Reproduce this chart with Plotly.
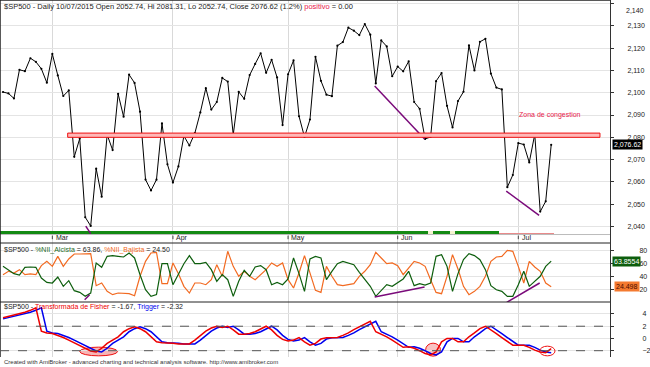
import plotly.graph_objects as go

# ---------------- data ----------------
close = [2100.34, 2099.68, 2097.45, 2110.30, 2109.66, 2115.48, 2113.86, 2110.74, 2104.50,
         2117.39, 2107.78, 2098.53, 2101.04, 2071.26, 2079.43, 2044.16, 2040.24, 2065.95, 2053.40,
         2081.19, 2074.28, 2099.50, 2089.27, 2108.10, 2104.42, 2091.50, 2061.05, 2056.15, 2061.02,
         2086.24, 2067.89,
         2059.69, 2066.96, 2080.62, 2076.33, 2081.90, 2091.18, 2102.06, 2092.43, 2095.84, 2106.63,
         2104.99, 2081.18, 2100.40, 2097.29, 2107.96, 2112.93, 2117.69, 2108.92, 2114.76, 2106.85,
         2085.51,
         2108.29, 2114.49, 2089.46, 2080.15, 2088.00, 2116.10, 2105.33, 2099.12, 2098.48, 2121.10,
         2122.73, 2129.20, 2127.83, 2125.85, 2130.82, 2126.06, 2104.20, 2123.48, 2120.79, 2107.39,
         2111.73, 2109.60, 2114.07, 2095.84, 2092.83, 2079.28, 2080.15, 2105.20, 2108.86, 2094.11,
         2084.43, 2096.29, 2100.44, 2121.24, 2109.99, 2122.85, 2124.20, 2108.58, 2102.31, 2101.49,
         2057.64, 2063.11,
         2077.42, 2076.78, 2068.76, 2081.34, 2046.68, 2051.31, 2076.62]

nii_alcista = [55.9, 49.8, 44.7, 42.6, 54.4, 54.9, 54.4, 38.0, 31.3, 30.3,
               39.5, 25.2, 33.9, 18.5, 15.9, 9.8, 14.9, 61.1, 54.4, 71.3,
               72.4, 71.3, 70.3, 76.5, 68.8, 43.1, 20.0, 9.8, 12.4, 60.0,
               60.0, 27.7, 43.1, 60.0, 72.4, 60.0, 60.0, 62.1, 50.8, 32.9,
               43.1, 35.4, 9.8, 32.9, 49.8, 40.6, 54.9, 57.0, 50.8, 27.7,
               31.3, 27.7, 36.5, 68.8, 44.7, 17.5, 67.2, 71.3, 68.8, 35.4,
               48.3, 60.0, 63.6, 61.1, 58.5, 46.7, 35.4, 25.2, 9.8, 19.0,
               27.7, 25.2, 31.3, 36.5, 48.3, 26.2, 29.3, 27.0, 30.3, 71.3,
               73.9, 55.9, 17.5, 44.7, 66.2, 75.4, 72.4, 66.2, 50.8, 26.2,
               20.0, 17.5, 9.8, 9.8, 27.7, 48.3, 25.2, 32.9, 40.6, 55.9,
               63.86]

nii_bajista = [43.1, 48.3, 45.7, 50.8, 43.1, 44.2, 43.1, 57.0, 63.6, 55.9,
               71.3, 55.9, 67.2, 74.9, 74.9, 74.9, 75.4, 26.2, 30.3, 17.5,
               12.4, 14.9, 14.9, 13.9, 10.8, 40.6, 63.6, 76.5, 77.5, 29.3,
               29.3, 61.1, 44.7, 25.2, 14.9, 30.3, 30.3, 27.7, 35.4, 58.5,
               40.6, 79.0, 55.9, 40.6, 48.3, 40.6, 35.4, 43.1, 50.8, 61.1,
               55.9, 61.1, 35.4, 22.6, 45.7, 72.4, 44.7, 19.0, 15.9, 55.9,
               40.6, 27.7, 26.2, 27.7, 29.3, 40.6, 48.3, 58.5, 77.5, 68.8,
               60.0, 61.1, 57.0, 43.1, 53.4, 63.6, 61.1, 55.9, 35.4, 15.9,
               13.9, 40.6, 73.9, 51.9, 25.2, 12.4, 17.5, 25.2, 40.6, 63.6,
               70.3, 71.3, 80.6, 79.0, 55.9, 30.3, 63.6, 54.9, 48.3, 30.3,
               24.50]

fisher = [3.4, 3.6, 3.8, 4.1, 4.3, 4.6, 5.0, 1.2, 0.9, 0.8,
          0.5, 0.15, -0.27, -0.7, -1.15, -1.6, -2.05, -2.2, -1.6, -0.8,
          -0.27, 0.27, 1.1, 1.6, 1.9, 1.6, 1.1, 0.27, -0.55, -0.7,
          -0.7, -0.8, -0.9, -0.9, -0.9, -0.27, 0.5, 1.2, 1.7, 2.0,
          1.8, 2.0, 1.4, 0.7, 0.7, 0.8, 1.1, 1.6, 2.0, 1.4,
          0.5, -0.15, -0.4, -0.27, 0.15, -0.55, -1.1, -0.8, -0.1, 0.1,
          0.15, 0.15, 0.5, 0.9, 1.45, 1.9, 2.3, 2.8, 1.1, 0.7,
          0.27, -0.27, -0.8, -1.45, -1.36, -1.6, -2.0, -2.45, -2.7, -2.2,
          -0.55, 0.0, 0.0, -0.55, -0.55, 0.27, 0.9, 1.6, 2.0, 1.45,
          0.8, 0.15, -0.55, -1.1, -1.1, -1.1, -1.45, -1.9, -2.2, -2.32,
          -1.67]

trigger = [3.2, 3.4, 3.6, 3.8, 4.1, 4.3, 4.6, 5.0, 1.2, 0.9,
           0.8, 0.5, 0.15, -0.27, -0.7, -1.15, -1.6, -2.05, -2.2, -1.6,
           -0.8, -0.27, 0.27, 1.1, 1.6, 1.9, 1.6, 1.1, 0.27, -0.55,
           -0.7, -0.7, -0.8, -0.9, -0.9, -0.9, -0.27, 0.5, 1.2, 1.7,
           2.0, 1.8, 2.0, 1.4, 0.7, 0.7, 0.8, 1.1, 1.6, 2.0,
           1.4, 0.5, -0.15, -0.4, -0.27, 0.15, -0.55, -1.1, -0.8, -0.1,
           0.1, 0.15, 0.15, 0.5, 0.9, 1.45, 1.9, 2.3, 2.8, 1.1,
           0.7, 0.27, -0.27, -0.8, -1.45, -1.36, -1.6, -2.0, -2.45, -2.7,
           -2.2, -0.55, 0.0, 0.0, -0.55, -0.55, 0.27, 0.9, 1.6, 2.0,
           1.45, 0.8, 0.15, -0.55, -1.1, -1.1, -1.1, -1.45, -1.9, -2.2,
           -2.32]

# ribbon state per bar: 1 = positive (green), 0 = neutral, -1 = negative
ribbon_state = [1] * 78 + [0] + [1] * 3 + [0] + [1] * 8 + [-1] * 10

month_labels = ["Mar", "Apr", "May", "Jun", "Jul"]
month_index = [9, 31, 52, 72, 94]

price_ticks = [2040, 2050, 2060, 2070, 2080, 2090, 2100, 2110, 2120, 2130, 2140]
nii_ticks = [20, 40, 60, 80]
fisher_ticks = [-2, 0, 2, 4]

congestion_zone = [2080.0, 2081.9]
congestion_span = [11.8, 108.9]

div_price_1 = ([67.8, 76.9], [2103.0, 2079.2])
div_price_2 = ([91.8, 97.8], [2055.9, 2045.0])
div_price_0 = ([15.1, 16.0], [2040.2, 2036.8])
div_nii_1 = ([67.8, 76.9], [8.8, 24.2])
div_nii_2 = ([91.9, 97.9], [0.6, 30.3])
div_nii_0 = ([14.9, 15.8], [4.6, 12.3])

idx = list(range(len(close)))
n = len(idx)

# ---------------- styling ----------------
FONT = "Liberation Sans, Arial, sans-serif"
GRID = "#e4e4e4"
AXC = "#333333"
GREEN = "#0d5e0d"
ORANGE = "#f26a21"
PURPLE = "#7a0a7a"

xr = [-3 / 5.5, 609 / 5.5]
H = 367.0
d1 = [1 - 243 / H, 1]
d2 = [1 - 302 / H, 1 - 243 / H]
d3 = [1 - 357 / H, 1 - 302 / H]

fig = go.Figure()

# ribbon (bars at bottom of price pane)
rib_col = {1: "#138a13", 0: "#f4f4d0", -1: "#e88a8a"}
rib_h = {1: 1.5, 0: 1.5, -1: 0.45}
fig.add_trace(go.Bar(x=idx, y=[rib_h[s] for s in ribbon_state], base=[2036.6] * n, width=1.0,
                     marker=dict(color=[rib_col[s] for s in ribbon_state], line=dict(width=0)),
                     xaxis="x", yaxis="y", showlegend=False, hoverinfo="skip"))

# price line
fig.add_trace(go.Scatter(x=idx, y=close, mode="lines+markers", line=dict(color="black", width=1),
                         marker=dict(size=2.2, color="black"), xaxis="x", yaxis="y", showlegend=False))

for xs, ys in (div_price_1, div_price_2, div_price_0):
    fig.add_trace(go.Scatter(x=xs, y=ys, mode="lines", line=dict(color=PURPLE, width=1.5),
                             xaxis="x", yaxis="y", showlegend=False))

# NII pane
fig.add_trace(go.Scatter(x=idx, y=nii_bajista, mode="lines", line=dict(color=ORANGE, width=1.2),
                         xaxis="x2", yaxis="y2", showlegend=False))
fig.add_trace(go.Scatter(x=idx, y=nii_alcista, mode="lines", line=dict(color=GREEN, width=1.2),
                         xaxis="x2", yaxis="y2", showlegend=False))
for xs, ys in (div_nii_1, div_nii_2, div_nii_0):
    fig.add_trace(go.Scatter(x=xs, y=ys, mode="lines", line=dict(color=PURPLE, width=1.5),
                             xaxis="x2", yaxis="y2", showlegend=False))

# Fisher pane
fig.add_trace(go.Scatter(x=idx, y=trigger, mode="lines", line=dict(color="#0000ee", width=1.5),
                         xaxis="x3", yaxis="y3", showlegend=False))
fig.add_trace(go.Scatter(x=idx, y=fisher, mode="lines", line=dict(color="#ee0000", width=1.5),
                         xaxis="x3", yaxis="y3", showlegend=False))

xcommon = dict(range=xr, showticklabels=False, ticks="", tickvals=month_index, showgrid=True,
               gridcolor="#d9d9d9", gridwidth=1, zeroline=False, showline=False, fixedrange=True)
ycommon = dict(side="right", showline=True, linecolor=AXC, linewidth=1, ticks="outside", ticklen=3,
               tickcolor=AXC, tickfont=dict(family=FONT, size=7, color="#222"), showgrid=True,
               gridcolor=GRID, zeroline=False)

# top scale value (2140) is labelled separately so that it stays inside the picture
price_ticktext = [f"{v:,d}" if v != price_ticks[-1] else "" for v in price_ticks]

fig.update_layout(
    width=650, height=367, margin=dict(l=0, r=38, t=0, b=0),
    paper_bgcolor="white", plot_bgcolor="white", barmode="overlay", bargap=0,
    xaxis=dict(domain=[0, 1], anchor="y", **xcommon),
    xaxis2=dict(domain=[0, 1], anchor="y2", **xcommon),
    xaxis3=dict(domain=[0, 1], anchor="y3", **xcommon),
    yaxis=dict(domain=d1, anchor="x", range=[2032.6, 2141.6], tickvals=price_ticks,
               ticktext=price_ticktext, ticklabelstandoff=12, **ycommon),
    yaxis2=dict(domain=d2, anchor="x2", range=[1.1, 91.8], tickvals=nii_ticks,
                ticklabelstandoff=24, **ycommon),
    yaxis3=dict(domain=d3, anchor="x3", range=[-3.03, 5.96], tickvals=fisher_ticks,
                ticklabelstandoff=27, **ycommon),
)

shapes = []
# congestion zone
shapes.append(dict(type="rect", xref="x", yref="y", x0=congestion_span[0], x1=congestion_span[1],
                   y0=congestion_zone[0], y1=congestion_zone[1], fillcolor="#ffb8b8",
                   line=dict(color="#ee1111", width=1), layer="above"))
# date strip line
shapes.append(dict(type="line", xref="paper", yref="y", x0=0, x1=1, y0=2036.4, y1=2036.4,
                   line=dict(color="#bbbbbb", width=1)))
# month ticks
for m in month_index:
    shapes.append(dict(type="line", xref="x", yref="y", x0=m, x1=m, y0=2034.3, y1=2035.9,
                       line=dict(color="#444", width=1)))
# pane separators and border
for yy in (d1[0], d2[0]):
    shapes.append(dict(type="line", xref="paper", yref="paper", x0=0, x1=1, y0=yy, y1=yy,
                       line=dict(color="#222", width=1)))
shapes.append(dict(type="line", xref="paper", yref="paper", x0=0, x1=1, y0=1, y1=1,
                   line=dict(color="#222", width=1.5)))
shapes.append(dict(type="line", xref="paper", yref="paper", x0=0, x1=0, y0=d3[0], y1=1,
                   line=dict(color="#222", width=1.5)))
# fisher +/-2 dashed levels
for lv in (2, -2):
    shapes.append(dict(type="line", xref="paper", yref="y3", x0=0, x1=1, y0=lv, y1=lv,
                       line=dict(color="#555", width=1, dash="dash")))
# ellipses marking extremes
shapes.append(dict(type="circle", xref="x", yref="y3", x0=14.0, x1=20.9, y0=-2.84, y1=-1.42,
                   fillcolor="rgba(240,120,120,0.55)", line=dict(color="#ee1111", width=1), layer="below"))
shapes.append(dict(type="circle", xref="x", yref="y3", x0=77.1, x1=79.8, y0=-2.89, y1=-0.77,
                   fillcolor="rgba(240,120,120,0.45)", line=dict(color="#ee1111", width=1), layer="below"))
shapes.append(dict(type="circle", xref="x", yref="y3", x0=97.9, x1=100.7, y0=-2.84, y1=-1.26,
                   fillcolor="rgba(255,255,255,0)", line=dict(color="#ee1111", width=1), layer="above"))
fig.update_layout(shapes=shapes)

ann = []
tf = dict(family=FONT, size=7, color="#222")
ann.append(dict(xref="paper", yref="paper", x=0.003, y=1 - 6 / H, xanchor="left", yanchor="middle",
                showarrow=False, font=dict(family=FONT, size=7.5, color="#222"),
                text="$SP500 - Daily 10/07/2015 Open 2052.74, Hi 2081.31, Lo 2052.74, Close 2076.62 (1.2%) "
                     "<span style='color:#e8174a'>positivo</span> = 0.00"))
ann.append(dict(xref="paper", yref="paper", x=0.003, y=1 - 249.5 / H, xanchor="left", yanchor="middle",
                showarrow=False, font=tf,
                text="$SP500 - <span style='color:#1f6b1f'>%NII_Alcista</span> = 63.86, "
                     "<span style='color:#f26a21'>%NII_Bajista</span> = 24.50"))
ann.append(dict(xref="paper", yref="paper", x=0.003, y=1 - 306.7 / H, xanchor="left", yanchor="middle",
                showarrow=False, font=tf,
                text="$SP500 - <span style='color:#ee0000'>Transformada de Fisher</span> = -1.67, "
                     "<span style='color:#0000ee'>Trigger</span> = -2.32"))
ann.append(dict(xref="paper", yref="paper", x=0.004, y=1 - 362 / H, xanchor="left", yanchor="middle",
                showarrow=False, font=dict(family=FONT, size=6, color="#333"),
                text="Created with AmiBroker - advanced charting and technical analysis software. http://www.amibroker.com"))
for lab, m in zip(month_labels, month_index):
    ann.append(dict(xref="x", yref="y", x=m + 0.25, y=2035.0, xanchor="left", yanchor="middle",
                    showarrow=False, font=tf, text=lab))
ann.append(dict(xref="x", yref="y", x=93.8, y=2090.0, xanchor="left", yanchor="middle",
                showarrow=False, font=dict(family=FONT, size=7, color="#e8174a"), text="Zona de congestion"))
# top scale label, kept inside the frame
ann.append(dict(xref="paper", yref="y", x=1, y=price_ticks[-1], xanchor="left", yanchor="middle",
                xshift=14, yshift=-7, showarrow=False, font=tf, text=f"{price_ticks[-1]:,d}"))
# value boxes on the right scale
ann.append(dict(xref="paper", yref="y", x=1, y=close[-1], xanchor="left", yanchor="middle", xshift=2,
                showarrow=False, bgcolor="black", borderpad=1,
                font=dict(family=FONT, size=7, color="white"), text="2,076.62"))
ann.append(dict(xref="paper", yref="y2", x=1, y=nii_alcista[-1], xanchor="left", yanchor="middle", xshift=2,
                showarrow=False, bgcolor=GREEN, borderpad=1,
                font=dict(family=FONT, size=7, color="white"), text="63.8554"))
ann.append(dict(xref="paper", yref="y2", x=1, y=nii_bajista[-1], xanchor="left", yanchor="middle", xshift=4,
                showarrow=False, bgcolor="#f47a30", borderpad=1,
                font=dict(family=FONT, size=7, color="#4a0c00"), text="24.498"))
fig.update_layout(annotations=ann)

fig.write_html("out.html", config={"displayModeBar": False},
               post_script="document.body.style.margin='0';document.body.style.overflow='hidden';")
